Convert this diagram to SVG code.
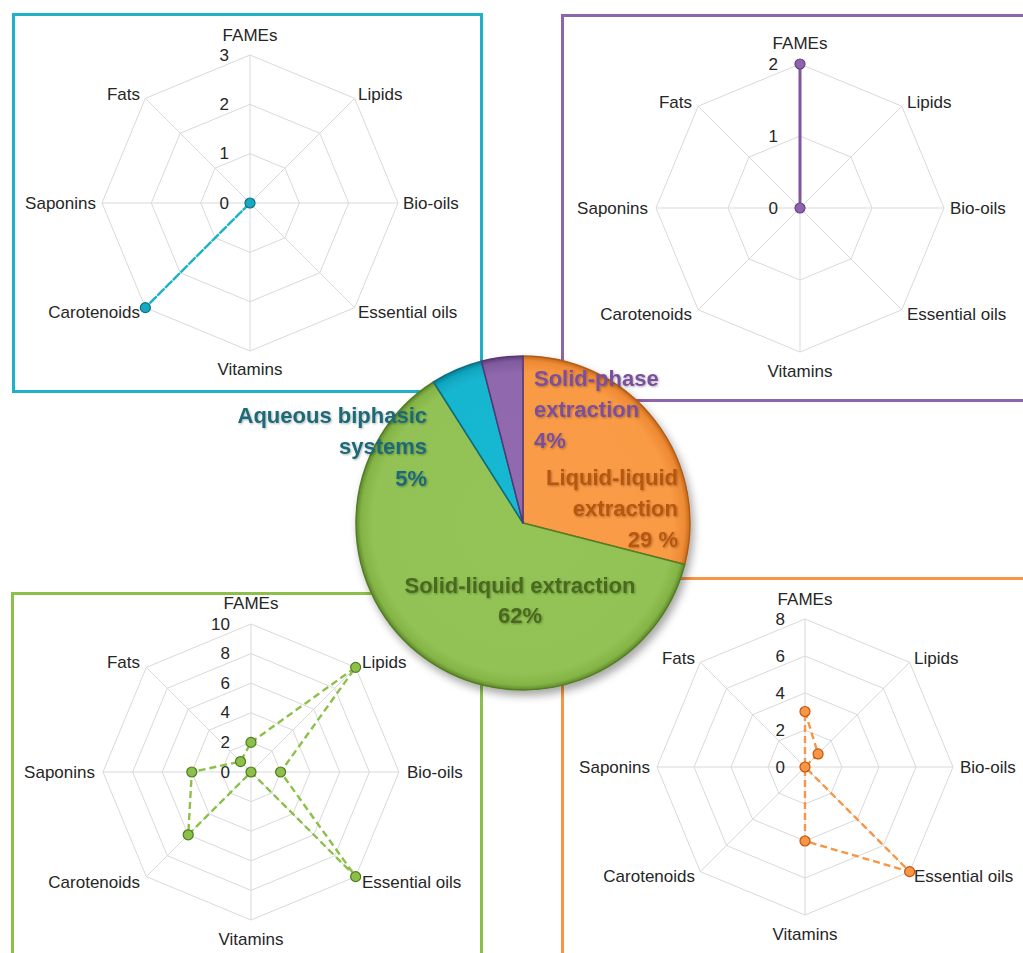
<svg xmlns="http://www.w3.org/2000/svg" width="1023" height="953" viewBox="0 0 1023 953">
  <defs>
    <style>
      .box { fill: #ffffff; stroke-width: 3; }
      .grid { fill: none; stroke: #D9D9D9; stroke-width: 1; }
      .lbl { font-family: "Liberation Sans", Arial, sans-serif; font-size: 17px; fill: #262626; dominant-baseline: central; }
      .mid { text-anchor: middle; }
      .end { text-anchor: end; }
      .tick { font-family: "Liberation Sans", Arial, sans-serif; font-size: 17px; fill: #262626; text-anchor: end; dominant-baseline: central; }
      .series { fill: none; stroke-width: 2.4; stroke-dasharray: 7 4; stroke-linejoin: round; }
      .plbl { font-family: "Liberation Sans", Arial, sans-serif; font-size: 22px; font-weight: bold; filter: url(#txtShadow); }
    </style>
    <filter id="pieShadow" x="-20%" y="-20%" width="140%" height="140%">
      <feDropShadow dx="3" dy="5" stdDeviation="4" flood-color="#000" flood-opacity="0.35"/>
    </filter>
    <filter id="txtShadow" x="-10%" y="-30%" width="120%" height="160%">
      <feDropShadow dx="1" dy="1" stdDeviation="0.8" flood-color="#000" flood-opacity="0.3"/>
    </filter>
    <!-- flat slice fills with a darkened bevelled rim -->
    <radialGradient id="gOrange" cx="523" cy="523" r="167" gradientUnits="userSpaceOnUse">
      <stop offset="0" stop-color="#F99C48"/>
      <stop offset="0.9" stop-color="#F99A45"/>
      <stop offset="0.97" stop-color="#EE8A34"/>
      <stop offset="1" stop-color="#C46A1E"/>
    </radialGradient>
    <radialGradient id="gGreen" cx="523" cy="523" r="167" gradientUnits="userSpaceOnUse">
      <stop offset="0" stop-color="#94C457"/>
      <stop offset="0.9" stop-color="#92C254"/>
      <stop offset="0.97" stop-color="#84B446"/>
      <stop offset="1" stop-color="#5F8A2C"/>
    </radialGradient>
    <radialGradient id="gCyan" cx="523" cy="523" r="167" gradientUnits="userSpaceOnUse">
      <stop offset="0" stop-color="#1AB8D2"/>
      <stop offset="0.9" stop-color="#16B6D0"/>
      <stop offset="0.97" stop-color="#10A4BE"/>
      <stop offset="1" stop-color="#0B7C90"/>
    </radialGradient>
    <radialGradient id="gPurple" cx="523" cy="523" r="167" gradientUnits="userSpaceOnUse">
      <stop offset="0" stop-color="#916AAF"/>
      <stop offset="0.9" stop-color="#8F68AD"/>
      <stop offset="0.97" stop-color="#805A9E"/>
      <stop offset="1" stop-color="#5E3D7A"/>
    </radialGradient>
  </defs>

  <rect width="1023" height="953" fill="#ffffff"/>

  <!-- frames around the four radar charts -->
  <g id="frames">
    <rect class="box" x="13.5" y="14.5" width="468" height="377" stroke="#1FB0CA"/>
    <rect class="box" x="562.5" y="15.5" width="470" height="385" stroke="#8E64AA"/>
    <rect class="box" x="12.5" y="593.5" width="469" height="380" stroke="#8DC04A"/>
    <rect class="box" x="562.5" y="578.5" width="470" height="390" stroke="#F79646"/>
  </g>

  <!-- Aqueous biphasic systems radar (max 3) -->
  <g id="radar-aqueous" transform="translate(250,203)">
    <polygon class="grid" points="0,-49.33 34.88,-34.88 49.33,0 34.88,34.88 0,49.33 -34.88,34.88 -49.33,0 -34.88,-34.88"/>
    <polygon class="grid" points="0,-98.67 69.77,-69.77 98.67,0 69.77,69.77 0,98.67 -69.77,69.77 -98.67,0 -69.77,-69.77"/>
    <polygon class="grid" points="0,-148 104.65,-104.65 148,0 104.65,104.65 0,148 -104.65,104.65 -148,0 -104.65,-104.65"/>
    <path class="grid" d="M0,-148V148M-148,0H148M-104.65,-104.65L104.65,104.65M-104.65,104.65L104.65,-104.65"/>
    <text class="tick" x="-21" y="0">0</text>
    <text class="tick" x="-21" y="-49.33">1</text>
    <text class="tick" x="-21" y="-98.67">2</text>
    <text class="tick" x="-21" y="-148">3</text>
    <text class="lbl mid" x="0" y="-168">FAMEs</text>
    <text class="lbl" x="108" y="-109">Lipids</text>
    <text class="lbl" x="153" y="0">Bio-oils</text>
    <text class="lbl" x="108" y="109">Essential oils</text>
    <text class="lbl mid" x="0" y="166">Vitamins</text>
    <text class="lbl end" x="-110" y="109">Carotenoids</text>
    <text class="lbl end" x="-154" y="0">Saponins</text>
    <text class="lbl end" x="-110" y="-109">Fats</text>
    <path class="series" stroke="#1FB0CA" d="M0,0L-104.65,104.65Z"/>
    <circle cx="0" cy="0" r="5" fill="#17A9C2" stroke="#0D6E80" stroke-width="1.2"/>
    <circle cx="-104.65" cy="104.65" r="5" fill="#17A9C2" stroke="#0D6E80" stroke-width="1.2"/>
  </g>

  <!-- Solid-phase extraction radar (max 2) -->
  <g id="radar-solid-phase" transform="translate(800,208)">
    <polygon class="grid" points="0,-72 50.91,-50.91 72,0 50.91,50.91 0,72 -50.91,50.91 -72,0 -50.91,-50.91"/>
    <polygon class="grid" points="0,-144 101.82,-101.82 144,0 101.82,101.82 0,144 -101.82,101.82 -144,0 -101.82,-101.82"/>
    <path class="grid" d="M0,-144V144M-144,0H144M-101.82,-101.82L101.82,101.82M-101.82,101.82L101.82,-101.82"/>
    <text class="tick" x="-22" y="0">0</text>
    <text class="tick" x="-22" y="-72">1</text>
    <text class="tick" x="-22" y="-144">2</text>
    <text class="lbl mid" x="0" y="-165">FAMEs</text>
    <text class="lbl" x="107" y="-106">Lipids</text>
    <text class="lbl" x="150" y="0">Bio-oils</text>
    <text class="lbl" x="107" y="106">Essential oils</text>
    <text class="lbl mid" x="0" y="163">Vitamins</text>
    <text class="lbl end" x="-108" y="106">Carotenoids</text>
    <text class="lbl end" x="-152" y="0">Saponins</text>
    <text class="lbl end" x="-108" y="-106">Fats</text>
    <path fill="none" stroke="#7E55A0" stroke-width="3" d="M0,-144L0,0"/>
    <circle cx="0" cy="-144" r="5" fill="#8E64AA" stroke="#6A4288" stroke-width="1.2"/>
    <circle cx="0" cy="0" r="5" fill="#8E64AA" stroke="#6A4288" stroke-width="1.2"/>
  </g>

  <!-- Solid-liquid extraction radar (max 10) -->
  <g id="radar-solid-liquid" transform="translate(251,772)">
    <polygon class="grid" points="0,-29.6 20.93,-20.93 29.6,0 20.93,20.93 0,29.6 -20.93,20.93 -29.6,0 -20.93,-20.93"/>
    <polygon class="grid" points="0,-59.2 41.86,-41.86 59.2,0 41.86,41.86 0,59.2 -41.86,41.86 -59.2,0 -41.86,-41.86"/>
    <polygon class="grid" points="0,-88.8 62.79,-62.79 88.8,0 62.79,62.79 0,88.8 -62.79,62.79 -88.8,0 -62.79,-62.79"/>
    <polygon class="grid" points="0,-118.4 83.72,-83.72 118.4,0 83.72,83.72 0,118.4 -83.72,83.72 -118.4,0 -83.72,-83.72"/>
    <polygon class="grid" points="0,-148 104.65,-104.65 148,0 104.65,104.65 0,148 -104.65,104.65 -148,0 -104.65,-104.65"/>
    <path class="grid" d="M0,-148V148M-148,0H148M-104.65,-104.65L104.65,104.65M-104.65,104.65L104.65,-104.65"/>
    <text class="tick" x="-21" y="0">0</text>
    <text class="tick" x="-21" y="-29.6">2</text>
    <text class="tick" x="-21" y="-59.2">4</text>
    <text class="tick" x="-21" y="-88.8">6</text>
    <text class="tick" x="-21" y="-118.4">8</text>
    <text class="tick" x="-21" y="-148">10</text>
    <text class="lbl mid" x="0" y="-169">FAMEs</text>
    <text class="lbl" x="111" y="-110">Lipids</text>
    <text class="lbl" x="156" y="0">Bio-oils</text>
    <text class="lbl" x="111" y="110">Essential oils</text>
    <text class="lbl mid" x="0" y="167">Vitamins</text>
    <text class="lbl end" x="-111" y="110">Carotenoids</text>
    <text class="lbl end" x="-156" y="0">Saponins</text>
    <text class="lbl end" x="-111" y="-110">Fats</text>
    <path class="series" stroke="#8DC04A" d="M0,-29.6L104.65,-104.65L29.6,0L104.65,104.65L0,0L-62.79,62.79L-59.2,0L-10.47,-10.47Z"/>
    <g fill="#8DC04A" stroke="#4F7A22" stroke-width="1.2">
      <circle cx="0" cy="-29.6" r="5"/>
      <circle cx="104.65" cy="-104.65" r="5"/>
      <circle cx="29.6" cy="0" r="5"/>
      <circle cx="104.65" cy="104.65" r="5"/>
      <circle cx="0" cy="0" r="5"/>
      <circle cx="-62.79" cy="62.79" r="5"/>
      <circle cx="-59.2" cy="0" r="5"/>
      <circle cx="-10.47" cy="-10.47" r="5"/>
    </g>
  </g>

  <!-- Liquid-liquid extraction radar (max 8) -->
  <g id="radar-liquid-liquid" transform="translate(805,767)">
    <polygon class="grid" points="0,-37 26.16,-26.16 37,0 26.16,26.16 0,37 -26.16,26.16 -37,0 -26.16,-26.16"/>
    <polygon class="grid" points="0,-74 52.33,-52.33 74,0 52.33,52.33 0,74 -52.33,52.33 -74,0 -52.33,-52.33"/>
    <polygon class="grid" points="0,-111 78.49,-78.49 111,0 78.49,78.49 0,111 -78.49,78.49 -111,0 -78.49,-78.49"/>
    <polygon class="grid" points="0,-148 104.65,-104.65 148,0 104.65,104.65 0,148 -104.65,104.65 -148,0 -104.65,-104.65"/>
    <path class="grid" d="M0,-148V148M-148,0H148M-104.65,-104.65L104.65,104.65M-104.65,104.65L104.65,-104.65"/>
    <text class="tick" x="-20" y="0">0</text>
    <text class="tick" x="-20" y="-37">2</text>
    <text class="tick" x="-20" y="-74">4</text>
    <text class="tick" x="-20" y="-111">6</text>
    <text class="tick" x="-20" y="-148">8</text>
    <text class="lbl mid" x="0" y="-168">FAMEs</text>
    <text class="lbl" x="109" y="-109">Lipids</text>
    <text class="lbl" x="155" y="0">Bio-oils</text>
    <text class="lbl" x="109" y="109">Essential oils</text>
    <text class="lbl mid" x="0" y="167">Vitamins</text>
    <text class="lbl end" x="-110" y="109">Carotenoids</text>
    <text class="lbl end" x="-155" y="0">Saponins</text>
    <text class="lbl end" x="-110" y="-109">Fats</text>
    <path class="series" stroke="#F79646" d="M0,-55.5L13.08,-13.08L0,0L104.65,104.65L0,74L0,0L0,0L0,0Z"/>
    <g fill="#F79646" stroke="#C0560E" stroke-width="1.2">
      <circle cx="0" cy="-55.5" r="5"/>
      <circle cx="13.08" cy="-13.08" r="5"/>
      <circle cx="0" cy="0" r="5"/>
      <circle cx="104.65" cy="104.65" r="5"/>
      <circle cx="0" cy="74" r="5"/>
    </g>
  </g>

  <!-- central pie of extraction methods -->
  <g id="pie" filter="url(#pieShadow)">
    <path d="M523,523L523,356A167,167 0 0 1 684.75,564.53Z" fill="url(#gOrange)" stroke="#B35C16" stroke-width="1.5" stroke-linejoin="round"/>
    <path d="M523,523L684.75,564.53A167,167 0 1 1 433.52,382Z" fill="url(#gGreen)" stroke="#557D27" stroke-width="1.5" stroke-linejoin="round"/>
    <path d="M523,523L433.52,382A167,167 0 0 1 481.47,361.25Z" fill="url(#gCyan)" stroke="#0B6E80" stroke-width="1.5" stroke-linejoin="round"/>
    <path d="M523,523L481.47,361.25A167,167 0 0 1 523,356Z" fill="url(#gPurple)" stroke="#553873" stroke-width="1.5" stroke-linejoin="round"/>
  </g>

  <g id="pie-labels">
    <text class="plbl" fill="#7B509C" x="534" y="386">Solid-phase</text>
    <text class="plbl" fill="#7B509C" x="534" y="417">extraction</text>
    <text class="plbl" fill="#7B509C" x="534" y="448">4%</text>
    <text class="plbl" fill="#B8560F" x="678" y="485" text-anchor="end">Liquid-liquid</text>
    <text class="plbl" fill="#B8560F" x="678" y="516" text-anchor="end">extraction</text>
    <text class="plbl" fill="#B8560F" x="678" y="547" text-anchor="end">29 %</text>
    <text class="plbl" fill="#1C6A78" x="427" y="423" text-anchor="end">Aqueous biphasic</text>
    <text class="plbl" fill="#1C6A78" x="427" y="454" text-anchor="end">systems</text>
    <text class="plbl" fill="#1C6A78" x="427" y="486" text-anchor="end">5%</text>
    <text class="plbl" fill="#4A6A1E" x="520" y="593" text-anchor="middle">Solid-liquid extraction</text>
    <text class="plbl" fill="#4A6A1E" x="520" y="623" text-anchor="middle">62%</text>
  </g>
</svg>
